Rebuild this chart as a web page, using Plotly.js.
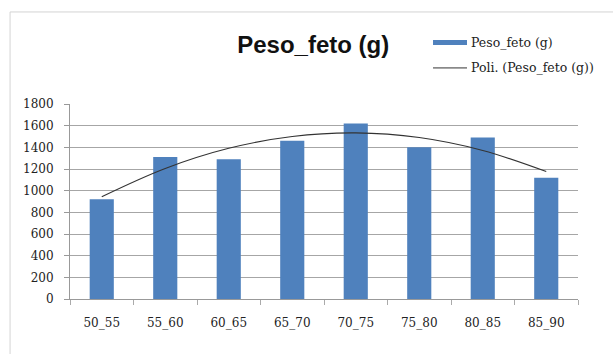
<!DOCTYPE html>
<html>
<head>
<meta charset="utf-8">
<script src="https://cdn.plot.ly/plotly-3.0.1.min.js"></script>
<style>html,body{margin:0;padding:0;background:#fff;}#chart{width:613px;height:354px;}</style>
</head>
<body>
<div id="chart"></div>
<script>
const categories = ["50_55","55_60","60_65","65_70","70_75","75_80","80_85","85_90"];
const pesoFeto = [920, 1310, 1290, 1460, 1620, 1400, 1490, 1120];
const trendPoli = [944, 1205, 1391, 1500, 1533, 1490, 1371, 1176];
const yTicks = [0,200,400,600,800,1000,1200,1400,1600,1800];
const legendLabels = ["Peso_feto (g)", "Poli. (Peso_feto (g))"];

const barColor = "#4F81BD";
const lineColor = "#333333";

const traces = [
  {type:"bar", x:categories, y:pesoFeto, name:legendLabels[0],
   marker:{color:barColor}, showlegend:false},
  {type:"scatter", mode:"lines", x:categories, y:trendPoli, name:legendLabels[1],
   line:{color:lineColor, width:1.1, shape:"spline"}, showlegend:false}
];

const legendFont = {family:"DejaVu Serif, serif", size:12.5, color:"#222"};

const layout = {
  width:613, height:354,
  margin:{l:70, r:35, t:104, b:55},
  paper_bgcolor:"#fff", plot_bgcolor:"#fff",
  bargap:0.62,
  showlegend:false,
  title:{text:"Peso_feto (g)", x:0.511, xanchor:"center", y:0.873, yanchor:"middle",
         font:{family:"Liberation Sans, Arial, sans-serif", size:24, weight:700, color:"#111"}},
  xaxis:{type:"category", showgrid:false, showline:true, linecolor:"#999", linewidth:1,
         ticks:"outside", tickson:"boundaries", ticklen:5, tickcolor:"#aaa",
         ticklabelstandoff:13,
         tickfont:{family:"DejaVu Serif, serif", size:12, color:"#222"}},
  yaxis:{range:[0,1800], tickvals:yTicks, ticktext:yTicks.map(String),
         showgrid:true, gridcolor:"#a6a6a6", gridwidth:1, zeroline:false,
         showline:true, linecolor:"#999", linewidth:1,
         ticks:"outside", ticklen:5, tickcolor:"#999", ticklabelstandoff:8,
         tickfont:{family:"DejaVu Serif, serif", size:12, color:"#222"}},
  shapes:[
    {type:"rect", xref:"paper", yref:"paper", x0:-0.118, x1:1.3, y0:-0.5, y1:1.472,
     line:{color:"#d4d4d4", width:1}, fillcolor:"rgba(0,0,0,0)", layer:"below"},
    {type:"rect", xref:"paper", yref:"paper", x0:0.7146, x1:0.7815, y0:1.303, y1:1.328,
     line:{width:0}, fillcolor:barColor},
    {type:"line", xref:"paper", yref:"paper", x0:0.7146, x1:0.7815, y0:1.185, y1:1.185,
     line:{color:lineColor, width:1}}
  ],
  annotations:[
    {xref:"paper", yref:"paper", x:0.7854, y:1.315, xanchor:"left", yanchor:"middle",
     text:legendLabels[0], showarrow:false, font:legendFont},
    {xref:"paper", yref:"paper", x:0.7854, y:1.185, xanchor:"left", yanchor:"middle",
     text:legendLabels[1], showarrow:false, font:legendFont}
  ]
};
Plotly.newPlot("chart", traces, layout, {displayModeBar:false, staticPlot:true});
</script>
</body>
</html>
